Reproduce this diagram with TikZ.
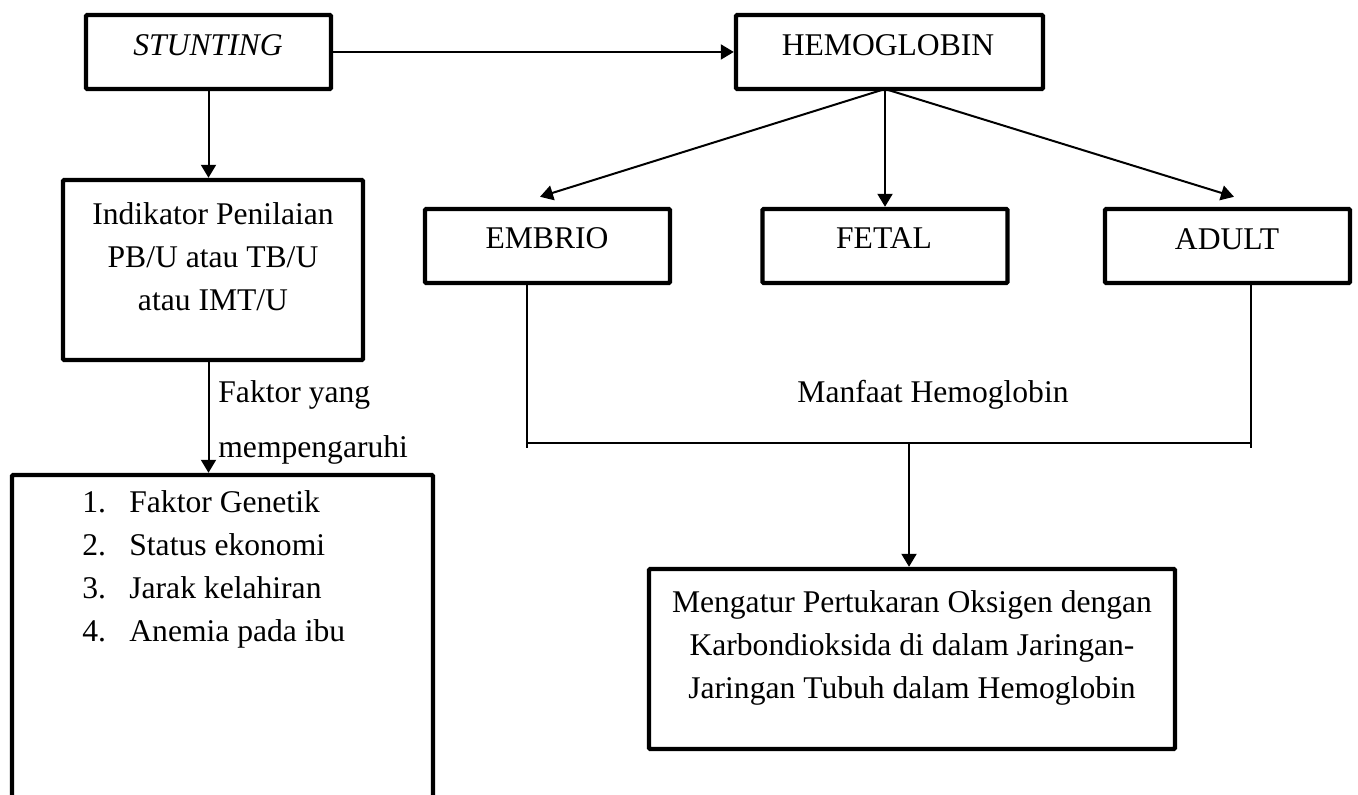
\documentclass[tikz,border=0pt]{standalone}
\usepackage{fontspec}
\setmainfont{Liberation Serif}
\usetikzlibrary{arrows.meta,positioning}

\begin{document}
\begin{tikzpicture}[
    x=0.5pt, y=-0.5pt,
    >={Triangle[length=6.5pt, width=7.5pt]},
    boxnode/.style={draw=black, line width=2.2pt, inner sep=0pt, rounded corners=0.6pt},
    boxtext/.style={font=\fontsize{15.8}{21.5}\selectfont, align=center, inner sep=0pt},
    thinline/.style={black, line width=1pt}
]

% Canvas
\useasboundingbox (0,0) rectangle (1358,795);

% 1. BOXES
% Left column
\node[boxnode, minimum width=122.5pt, minimum height=37pt] (stunting) at (208.5,52) {};
\node[boxnode, minimum width=150pt, minimum height=90pt] (indikator) at (213,270) {};
\node[boxnode, minimum width=210.5pt, minimum height=161.5pt] (faktorbox) at (222.5,636.5) {};

% Hemoglobin tree
\node[boxnode, minimum width=153.5pt, minimum height=37pt] (hemo) at (889.5,52) {};
\node[boxnode, minimum width=122.5pt, minimum height=37pt] (embrio) at (547.5,246) {};
\node[boxnode, minimum width=122.5pt, minimum height=37pt] (fetal) at (885,246) {};
\node[boxnode, minimum width=122.5pt, minimum height=37pt] (adult) at (1227.5,246) {};
\node[boxnode, minimum width=263pt, minimum height=90pt] (mengatur) at (912,659) {};

% 2. BOX TEXTS
\node[boxtext, anchor=base] (stuntingtext) at (208,56) {\textit{STUNTING}};
\node[boxtext] (indikatortext) at (213,256.5) {Indikator Penilaian\\PB/U atau TB/U\\atau IMT/U};
\node[boxtext, anchor=base] (hemotext) at (888,56) {HEMOGLOBIN};
\node[boxtext, anchor=base] (embriotext) at (547,249) {EMBRIO};
\node[boxtext, anchor=base] (fetaltext) at (884,249) {FETAL};
\node[boxtext, anchor=base] (adulttext) at (1227,250) {ADULT};
\node[boxtext] (mengaturtext) at (912,648) {Mengatur Pertukaran Oksigen dengan\\Karbondioksida di dalam Jaringan-\\Jaringan Tubuh dalam Hemoglobin};

% Factor list
\node[boxtext, anchor=base west] (item1) at (82,513) {\makebox[23.5pt][l]{1.}Faktor Genetik};
\node[boxtext, anchor=base west] (item2) at (82,556) {\makebox[23.5pt][l]{2.}Status ekonomi};
\node[boxtext, anchor=base west] (item3) at (82,598) {\makebox[23.5pt][l]{3.}Jarak kelahiran};
\node[boxtext, anchor=base west] (item4) at (82,641) {\makebox[23.5pt][l]{4.}Anemia pada ibu};

% Free labels
\node[boxtext, align=left, anchor=north west, font=\fontsize{15.8}{27.5}\selectfont] (faktorlabel) at (218,380) {Faktor yang\\mempengaruhi};
\node[boxtext, anchor=base west] (manfaatlabel) at (797,403) {Manfaat Hemoglobin};

% 3. CONNECTORS
\draw[thinline, ->] (stunting) -- (hemo);
\draw[thinline, ->] (stunting.south) -- (stunting.south |- indikator.north);
\draw[thinline, ->] (stunting.south |- indikator.south) -- (stunting.south |- faktorbox.north);

% Fan out of hemoglobin
\coordinate (fan) at (885,89);
\draw[thinline, ->] (fan) -- ([xshift=-3.75pt, yshift=5pt]embrio.north);
\draw[thinline, ->] (fan) -- (fan |- fetal.north);
\draw[thinline, ->] (fan) -- ([xshift=3.25pt, yshift=5pt]adult.north);

% Bracket into the benefit box
\coordinate (manleft) at (527,443);
\coordinate (manright) at (1251,443);
\coordinate (manmid) at (909,443);
\draw[thinline] (manleft |- embrio.south) -- ([yshift=-2.5pt]manleft);
\draw[thinline] (manright |- adult.south) -- ([yshift=-2.5pt]manright);
\draw[thinline] (manleft) -- (manright);
\draw[thinline, ->] (manmid) -- (manmid |- mengatur.north);

\end{tikzpicture}
\end{document}
